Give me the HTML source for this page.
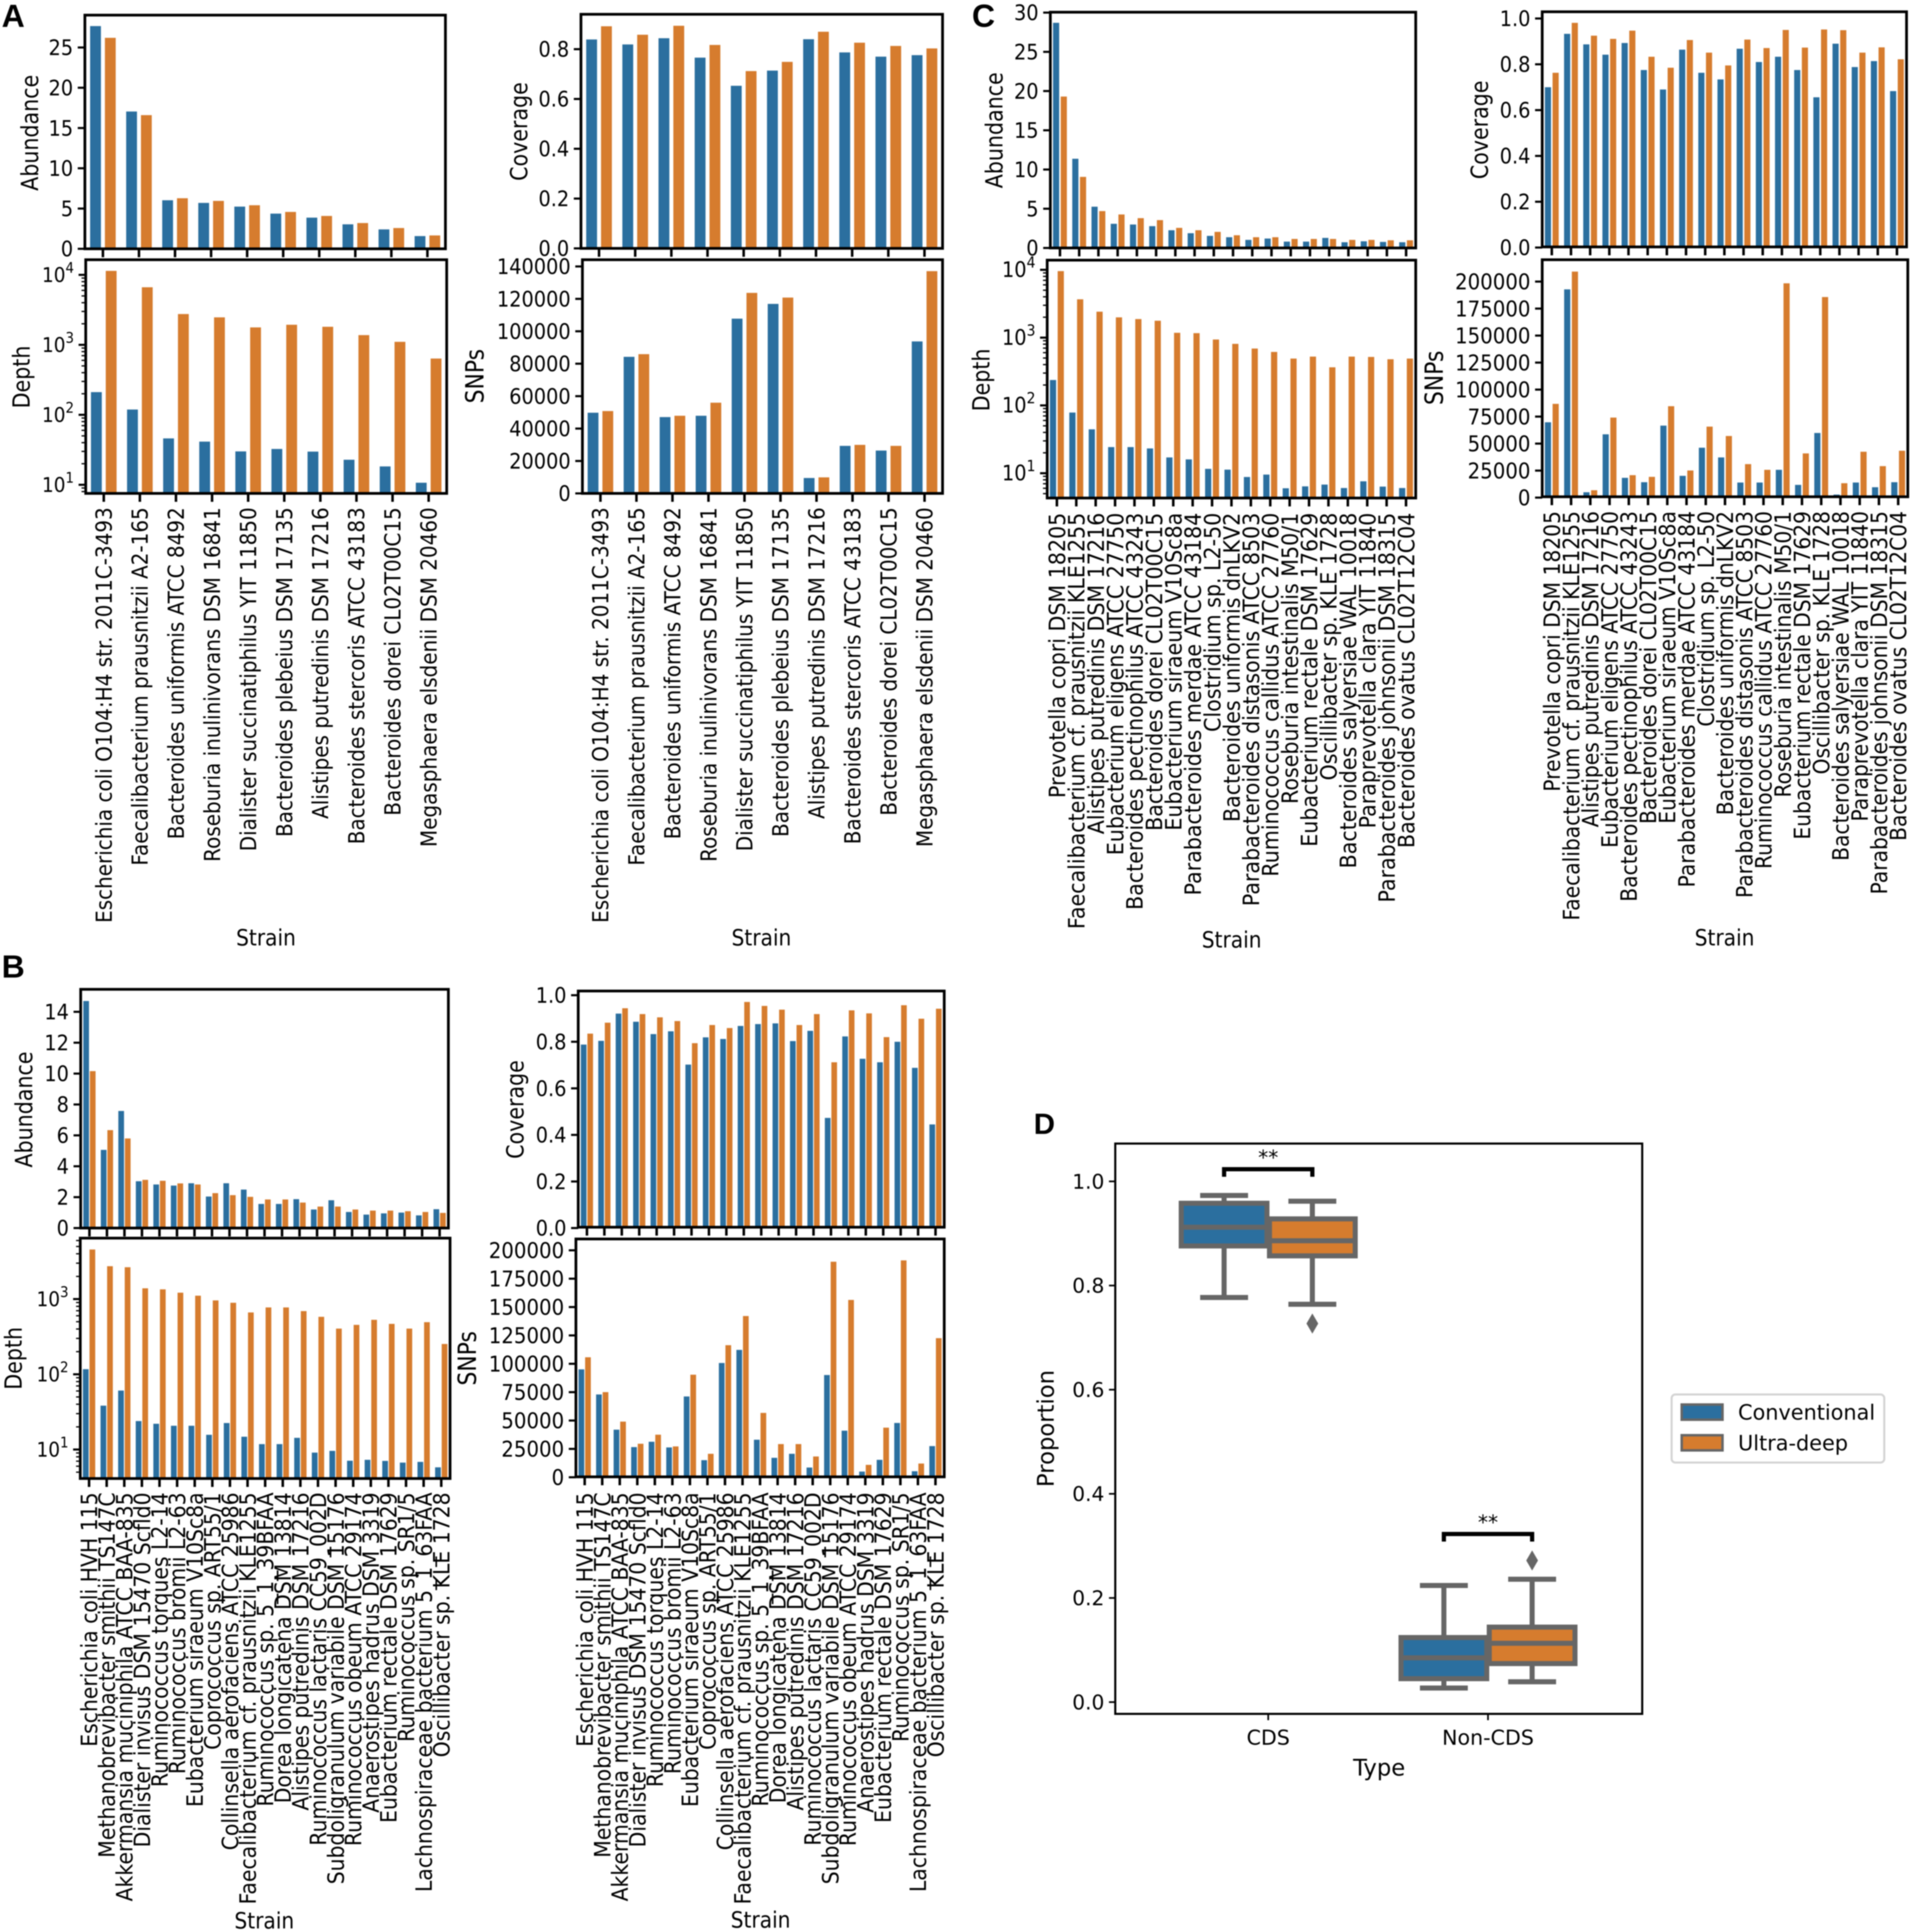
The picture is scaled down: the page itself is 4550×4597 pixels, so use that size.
<!DOCTYPE html>
<html lang="en">
<head>
<meta charset="utf-8">
<title>Strain abundance, depth, coverage and SNP comparison</title>
<style>
html,body{margin:0;padding:0;background:#fff;}
#figure{display:block;width:4550px;height:4597px;filter:blur(1.4px);}
text{font-family:"DejaVu Sans","Liberation Sans",sans-serif;fill:#000;}
</style>
</head>
<body>
<svg id="figure" xmlns="http://www.w3.org/2000/svg" width="4550" height="4597" viewBox="0 0 4550 4597">
<rect width="4550" height="4597" fill="#fff"></rect>
</svg>
<script>
// ---------- Panel A data ----------
const strainsA = ["Escherichia coli O104:H4 str. 2011C-3493","Faecalibacterium prausnitzii A2-165","Bacteroides uniformis ATCC 8492","Roseburia inulinivorans DSM 16841","Dialister succinatiphilus YIT 11850","Bacteroides plebeius DSM 17135","Alistipes putredinis DSM 17216","Bacteroides stercoris ATCC 43183","Bacteroides dorei CL02T00C15","Megasphaera elsdenii DSM 20460"];
const abundanceConvA = [27.66,17.05,6.03,5.7,5.24,4.37,3.87,3.04,2.41,1.58];
const abundanceUltraA = [26.2,16.6,6.28,5.95,5.41,4.58,4.08,3.2,2.58,1.66];
const depthConvA = [211,119,46,41.4,30,32.5,29.8,22.8,18.3,10.7];
const depthUltraA = [11400,6650,2755,2470,1775,1937,1812,1377,1104,637];
const coverageConvA = [.839,.819,.844,.766,.653,.714,.84,.787,.77,.776];
const coverageUltraA = [.892,.858,.894,.817,.712,.749,.87,.826,.813,.803];
const snpsConvA = [49770,84250,47080,47900,107800,116900,9500,29320,26430,93750];
const snpsUltraA = [50800,85900,47900,55960,123700,120800,9900,29940,29320,137100];

// ---------- Panel B data ----------
const strainsB = ["Escherichia coli HVH 115","Methanobrevibacter smithii TS147C","Akkermansia muciniphila ATCC BAA-835","Dialister invisus DSM 15470 Scfld0","Ruminococcus torques L2-14","Ruminococcus bromii L2-63","Eubacterium siraeum V10Sc8a","Coprococcus sp. ART55/1","Collinsella aerofaciens ATCC 25986","Faecalibacterium cf. prausnitzii KLE1255","Ruminococcus sp. 5_1_39BFAA","Dorea longicatena DSM 13814","Alistipes putredinis DSM 17216","Ruminococcus lactaris CC59_002D","Subdoligranulum variabile DSM 15176","Ruminococcus obeum ATCC 29174","Anaerostipes hadrus DSM 3319","Eubacterium rectale DSM 17629","Ruminococcus sp. SR1/5","Lachnospiraceae bacterium 5_1_63FAA","Oscillibacter sp. KLE 1728"];
const abundanceConvB = [14.7,5.06,7.58,3.03,2.82,2.75,2.9,2.04,2.9,2.49,1.56,1.56,1.87,1.2,1.8,1.04,.87,.95,1,.82,1.22];
const abundanceUltraB = [10.16,6.34,5.8,3.12,3.06,2.89,2.82,2.26,2.13,2.02,1.85,1.85,1.65,1.39,1.39,1.2,1.13,1.13,1.09,1.04,.98];
const depthConvB = [117,38.3,60.8,23.9,22,20.7,20.7,15.7,22.5,14.8,11.8,11.8,14.3,9.1,9.6,7.1,7.3,7.06,6.7,6.85,5.8];
const depthUltraB = [4560,2735,2650,1390,1347,1216,1109,960,893,664,774,774,692,581,405,454,530,468,405,493,253];
const coverageConvB = [.788,.804,.921,.886,.833,.845,.702,.819,.812,.868,.876,.879,.803,.847,.473,.823,.727,.712,.8,.688,.445];
const coverageUltraB = [.835,.882,.944,.919,.905,.889,.794,.872,.859,.971,.954,.938,.872,.919,.712,.935,.922,.82,.957,.899,.942];
const snpsConvB = [95100,72970,41950,26590,31300,26290,71200,15070,100700,112250,33090,17130,20680,8570,90100,41060,5020,15360,47850,5320,27470];
const snpsUltraB = [105750,75030,49040,29540,37520,27180,90390,20680,116390,142090,56720,29250,29250,18310,189940,156270,10930,43720,191130,12110,122590];

// ---------- Panel C data ----------
const strainsC = ["Prevotella copri DSM 18205","Faecalibacterium cf. prausnitzii KLE1255","Alistipes putredinis DSM 17216","Eubacterium eligens ATCC 27750","Bacteroides pectinophilus ATCC 43243","Bacteroides dorei CL02T00C15","Eubacterium siraeum V10Sc8a","Parabacteroides merdae ATCC 43184","Clostridium sp. L2-50","Bacteroides uniformis dnLKV2","Parabacteroides distasonis ATCC 8503","Ruminococcus callidus ATCC 27760","Roseburia intestinalis M50/1","Eubacterium rectale DSM 17629","Oscillibacter sp. KLE 1728","Bacteroides salyersiae WAL 10018","Paraprevotella clara YIT 11840","Parabacteroides johnsonii DSM 18315","Bacteroides ovatus CL02T12C04"];
const abundanceConvC = [28.7,11.37,5.26,3.08,2.99,2.78,2.26,1.88,1.54,1.37,1.03,1.2,.81,.81,1.28,.73,.85,.77,.73];
const abundanceUltraC = [19.3,9.06,4.7,4.27,3.8,3.55,2.56,2.26,2.05,1.62,1.37,1.37,1.15,1.15,1.15,1.03,1.03,.98,.98];
const depthConvC = [237,78.5,44.4,24.3,24.3,23.2,17.1,16,11.6,11.3,8.8,9.55,6,6.4,6.8,6.05,7.6,6.35,6.05];
const depthUltraC = [9570,3674,2413,1990,1878,1775,1178,1164,938,809,690,615,491,525,365,525,519,480,491];
const coverageConvC = [.7,.933,.887,.842,.893,.775,.69,.864,.763,.734,.868,.81,.833,.775,.656,.89,.788,.814,.683];
const coverageUltraC = [.763,.981,.925,.911,.947,.833,.785,.906,.851,.795,.908,.871,.95,.873,.952,.949,.851,.874,.822];
const snpsConvC = [69750,192800,4960,58600,18300,14260,66650,20150,46190,37200,13950,13950,25730,11780,59830,2790,13950,9610,14260];
const snpsUltraC = [86800,209250,6820,74090,20770,19220,84630,25110,65720,57040,31000,25730,198400,40920,185690,13330,42470,29140,43400];

// ---------- Tick labels ----------
const abundanceTicksA = ["0","5","10","15","20","25"];
const abundanceTicksB = ["0","2","4","6","8","10","12","14"];
const abundanceTicksC = ["0","5","10","15","20","25","30"];
const coverageTicksA = ["0.0","0.2","0.4","0.6","0.8"];
const coverageTicksFull = ["0.0","0.2","0.4","0.6","0.8","1.0"];
const snpTicksA = ["0","20000","40000","60000","80000","100000","120000","140000"];
const snpTicksFull = ["0","25000","50000","75000","100000","125000","150000","175000","200000"];
const depthExponentsAC = [1,2,3,4];
const depthExponentsB = [1,2,3];

// ---------- Panel D data (box statistics: whisker low, q1, median, q3, whisker high) ----------
const boxCategories = ["CDS","Non-CDS"];
const boxHues = ["Conventional","Ultra-deep"];
const cdsConvStats = [.777,.876,.912,.958,.973];
const cdsUltraStats = [.764,.857,.886,.928,.962];
const nonCdsConvStats = [.027,.045,.085,.124,.224];
const nonCdsUltraStats = [.039,.074,.113,.144,.236];
const cdsUltraFliers = [.727];
const nonCdsUltraFliers = [.272];
const boxTicks = ["0.0","0.2","0.4","0.6","0.8","1.0"];

const BLUE = "#2b6f9f";
const ORANGE = "#d67c2e";
const GREY = "#666666";
const svg = document.getElementById("figure");
const NS = "http://www.w3.org/2000/svg";

function make(tag, attrs, parent) {
  const el = document.createElementNS(NS, tag);
  for (const k in attrs) el.setAttribute(k, attrs[k]);
  parent.appendChild(el);
  return el;
}

function drawBarPanel(p) {
  const g = make("g", {}, svg);
  
  
  const n = p.categories.length;
  const step = (p.r - p.l) / n;
  const xCenter = i => p.l + (i + .5) * step;
  const tr = v => p.log ? Math.log10(v) : v;
  const yOf = v => p.y0 + (tr(v) - tr(p.v0)) * (p.y1 - p.y0) / (tr(p.v1) - tr(p.v0));
  const base = p.log ? p.b : yOf(0);
  const w = p.barFrac * step, gap = p.gapFrac * step;

  // bars
  [[p.conv, BLUE, 'conventional'], [p.ultra, ORANGE, 'ultra-deep']].forEach((s, si) => {
    s[0].forEach((v, i) => {
      const cx = xCenter(i) + (si === 0 ? -1 : 1) * (w + gap) / 2;
      const top = Math.max(yOf(v), p.t);
      const bar = make("rect", {x: cx - w / 2, y: top, width: w, height: Math.max(0, base - top), fill: s[1]}, g);
      
      
    });
  });

  // x ticks and labels
  p.categories.forEach((c, i) => {
    const x = xCenter(i);
    const tick = make("line", {x1: x, x2: x, y1: p.b, y2: p.b + 20, stroke: "#000", "stroke-width": 6}, g);
    
    
    if (p.labelStart) {
      const t = make("text", {transform: "translate(" + x + "," + p.labelStart + ") rotate(-90) scale(1,1.1)", "text-anchor": "end", dy: ".36em", "font-size": p.labelFont || 47.5}, g);
      t.textContent = c;
      
      
    }
  });

  // y ticks
  const fs = p.tickFont || 46;
  if (p.log) {
    p.ticks.forEach(ex => {
      const y = yOf(Math.pow(10, ex));
      const tick = make("line", {x1: p.l - 17, x2: p.l, y1: y, y2: y, stroke: "#000", "stroke-width": 5}, g);
      
      
      const t = make("text", {transform: "translate(" + (p.l - 28) + "," + (y + 17) + ") scale(1,1.1)", "text-anchor": "end", "font-size": fs}, g);
      t.appendChild(document.createTextNode("10"));
      const sup = make("tspan", {dy: -20, "font-size": fs * .72}, t);
      sup.textContent = String(ex);
      
      
    });
    const lo = p.ticks[0] - 1, hi = p.ticks[p.ticks.length - 1] + 1;
    for (let ex = lo; ex < hi; ex++) {
      for (let m = 2; m < 10; m++) {
        const y = yOf(m * Math.pow(10, ex));
        if (y < p.t || y > p.b) continue;
        const minor = make("line", {x1: p.l - 10, x2: p.l, y1: y, y2: y, stroke: "#000", "stroke-width": 3}, g);
        
        
      }
    }
  } else {
    p.ticks.forEach(lbl => {
      const y = yOf(Number(lbl));
      const tick = make("line", {x1: p.l - 17, x2: p.l, y1: y, y2: y, stroke: "#000", "stroke-width": 5}, g);
      
      
      const t = make("text", {transform: "translate(" + (p.l - 28) + "," + y + ") scale(1,1.1)", dy: ".36em", "text-anchor": "end", "font-size": fs}, g);
      t.textContent = lbl;
      
      
    });
  }

  // frame
  const frame = make("rect", {x: p.l, y: p.t, width: p.r - p.l, height: p.b - p.t, fill: "none", stroke: "#000", "stroke-width": 6.5}, g);
  
  

  // y title
  const yt = make("text", {transform: "translate(" + p.titleX + "," + p.titleY + ") rotate(-90) scale(1,1.15)", "text-anchor": "middle", dy: ".36em", "font-size": p.titleFont || 49}, g);
  yt.textContent = p.ylabel;
  
  

  // x title
  if (p.xTitleX) {
    const xt = make("text", {transform: "translate(" + p.xTitleX + "," + p.xTitleY + ") scale(1,1.12)", dy: ".36em", "text-anchor": "middle", "font-size": 48}, g);
    xt.textContent = "Strain";
    
    
  }
}

const fracA = {barFrac: .30, gapFrac: .11};
const fracB = {barFrac: .325, gapFrac: .05};
const fracC = {barFrac: .32, gapFrac: .08};

// Panel A
drawBarPanel(Object.assign({name: 'a-abundance', categories: strainsA, conv: abundanceConvA, ultra: abundanceUltraA, l: 202, r: 1060, t: 36, b: 592, v0: 0, y0: 592, v1: 25, y1: 113, ticks: abundanceTicksA, ylabel: 'Abundance', titleX: 70, titleY: 316}, fracA));
drawBarPanel(Object.assign({name: 'a-depth', log: true, categories: strainsA, conv: depthConvA, ultra: depthUltraA, l: 204, r: 1063, t: 618, b: 1174, v0: 10, y0: 1153.5, v1: 10000, y1: 654, ticks: depthExponentsAC, ylabel: 'Depth', titleX: 50, titleY: 897, labelStart: 1207, xTitleX: 633, xTitleY: 2230, tickFont: 44}, fracA));
drawBarPanel(Object.assign({name: 'a-coverage', categories: strainsA, conv: coverageConvA, ultra: coverageUltraA, l: 1382.5, r: 2243, t: 34, b: 591, v0: 0, y0: 591, v1: .8, y1: 117, ticks: coverageTicksA, ylabel: 'Coverage', titleX: 1234, titleY: 313}, fracA));
drawBarPanel(Object.assign({name: 'a-snps', categories: strainsA, conv: snpsConvA, ultra: snpsUltraA, l: 1386, r: 2243, t: 618, b: 1174, v0: 0, y0: 1174, v1: 140000, y1: 634, ticks: snpTicksA, ylabel: 'SNPs', titleX: 1129, titleY: 895, labelStart: 1207, xTitleX: 1812, xTitleY: 2230, titleFont: 52}, fracA));

// Panel B
drawBarPanel(Object.assign({name: 'b-abundance', categories: strainsB, conv: abundanceConvB, ultra: abundanceUltraB, l: 192, r: 1067, t: 2354, b: 2922, v0: 0, y0: 2922, v1: 14, y1: 2407.5, ticks: abundanceTicksB, ylabel: 'Abundance', titleX: 56, titleY: 2640}, fracB));
drawBarPanel(Object.assign({name: 'b-depth', log: true, categories: strainsB, conv: depthConvB, ultra: depthUltraB, l: 191, r: 1071, t: 2946, b: 3518, v0: 10, y0: 3449, v1: 1000, y1: 3091, ticks: depthExponentsB, ylabel: 'Depth', titleX: 31, titleY: 3232, labelStart: 3551, xTitleX: 629, xTitleY: 4569, tickFont: 44, labelFont: 48.5}, fracB));
drawBarPanel(Object.assign({name: 'b-coverage', categories: strainsB, conv: coverageConvB, ultra: coverageUltraB, l: 1376, r: 2247, t: 2358, b: 2920, v0: 0, y0: 2922, v1: 1, y1: 2368, ticks: coverageTicksFull, ylabel: 'Coverage', titleX: 1225, titleY: 2640}, fracB));
drawBarPanel(Object.assign({name: 'b-snps', categories: strainsB, conv: snpsConvB, ultra: snpsUltraB, l: 1370.5, r: 2247, t: 2948, b: 3514, v0: 0, y0: 3515, v1: 200000, y1: 2975, ticks: snpTicksFull, ylabel: 'SNPs', titleX: 1111, titleY: 3232, labelStart: 3551, xTitleX: 1810, xTitleY: 4567, tickFont: 47, titleFont: 52, labelFont: 48.5}, fracB));

// Panel C
drawBarPanel(Object.assign({name: 'c-abundance', categories: strainsC, conv: abundanceConvC, ultra: abundanceUltraC, l: 2499.5, r: 3369, t: 29, b: 590, v0: 0, y0: 590, v1: 30, y1: 30, ticks: abundanceTicksC, ylabel: 'Abundance', titleX: 2365, titleY: 310}, fracC));
drawBarPanel(Object.assign({name: 'c-depth', log: true, categories: strainsC, conv: depthConvC, ultra: depthUltraC, l: 2492, r: 3369, t: 619, b: 1185, v0: 10, y0: 1126, v1: 10000, y1: 642, ticks: depthExponentsAC, ylabel: 'Depth', titleX: 2334, titleY: 904, labelStart: 1220, xTitleX: 2931, xTitleY: 2235, tickFont: 46, labelFont: 49}, fracC));
drawBarPanel(Object.assign({name: 'c-coverage', categories: strainsC, conv: coverageConvC, ultra: coverageUltraC, l: 3670, r: 4537, t: 28, b: 587.5, v0: 0, y0: 589, v1: 1, y1: 44, ticks: coverageTicksFull, ylabel: 'Coverage', titleX: 3520, titleY: 309}, fracC));
drawBarPanel(Object.assign({name: 'c-snps', categories: strainsC, conv: snpsConvC, ultra: snpsUltraC, l: 3670, r: 4540, t: 618, b: 1182, v0: 0, y0: 1184, v1: 200000, y1: 670, ticks: snpTicksFull, ylabel: 'SNPs', titleX: 3412, titleY: 899, labelStart: 1216, xTitleX: 4104, xTitleY: 2230, tickFont: 47, titleFont: 52, labelFont: 48.2}, fracC));

// Panel D box plot
(function drawBoxPanel() {
  const g = make("g", {}, svg);
  
  
  const L = 2654, R = 3908, T = 2721, B = 4078;
  const yOf = v => 4050 + v * (2811 - 4050);
  const catX = i => 3018 + i * 523;
  const hueX = (i, h) => catX(i) + (h === 0 ? -1 : 1) * 105;
  const halfW = 102, capHalf = 57;

  function box(stats, cat, hue, fill) {
    const x = hueX(cat, hue);
    const [lo, q1, med, q3, hi] = stats;
    const whisker = make("path", {d: "M" + x + " " + yOf(q3) + "V" + yOf(hi) + "M" + (x - capHalf) + " " + yOf(hi) + "H" + (x + capHalf) + "M" + x + " " + yOf(q1) + "V" + yOf(lo) + "M" + (x - capHalf) + " " + yOf(lo) + "H" + (x + capHalf), stroke: GREY, "stroke-width": 12, fill: "none"}, g);
    
    
    const rect = make("rect", {x: x - halfW, y: yOf(q3), width: halfW * 2, height: yOf(q1) - yOf(q3), fill: fill, stroke: GREY, "stroke-width": 12}, g);
    
    
    const median = make("line", {x1: x - halfW, x2: x + halfW, y1: yOf(med), y2: yOf(med), stroke: GREY, "stroke-width": 12}, g);
    
    
  }
  function fliers(vals, cat, hue) {
    const x = hueX(cat, hue);
    vals.forEach(v => {
      const y = yOf(v);
      const d = make("polygon", {points: [[x, y - 24], [x + 14, y], [x, y + 24], [x - 14, y]].join(" "), fill: GREY}, g);
      
      
    });
  }
  box(cdsConvStats, 0, 0, BLUE);
  box(cdsUltraStats, 0, 1, ORANGE);
  box(nonCdsConvStats, 1, 0, BLUE);
  box(nonCdsUltraStats, 1, 1, ORANGE);
  fliers(cdsUltraFliers, 0, 1);
  fliers(nonCdsUltraFliers, 1, 1);

  // significance brackets
  [[0, 2782, 2800, 2771], [1, 3650, 3668, 3639]].forEach(b => {
    const x1 = hueX(b[0], 0), x2 = hueX(b[0], 1);
    const br = make("path", {d: "M" + x1 + " " + b[2] + "V" + b[1] + "H" + x2 + "V" + b[2], stroke: "#000", "stroke-width": 10, fill: "none"}, g);
    
    
    const st = make("text", {x: catX(b[0]), y: b[3], "text-anchor": "middle", "font-size": 48}, g);
    st.textContent = "**";
    
    
  });

  // axes
  const frame = make("rect", {x: L, y: T, width: R - L, height: B - T, fill: "none", stroke: "#000", "stroke-width": 5}, g);
  
  
  boxTicks.forEach(lbl => {
    const y = yOf(Number(lbl));
    const tick = make("line", {x1: L - 15, x2: L, y1: y, y2: y, stroke: "#000", "stroke-width": 4}, g);
    
    
    const t = make("text", {x: L - 26, y: y, dy: ".36em", "text-anchor": "end", "font-size": 48}, g);
    t.textContent = lbl;
    
    
  });
  boxCategories.forEach((c, i) => {
    const x = catX(i);
    const tick = make("line", {x1: x, x2: x, y1: B, y2: B + 15, stroke: "#000", "stroke-width": 4}, g);
    
    
    const t = make("text", {x: x, y: 4134, dy: ".36em", "text-anchor": "middle", "font-size": 49}, g);
    t.textContent = c;
    
    
  });
  const yt = make("text", {transform: "translate(2488,3399) rotate(-90)", "text-anchor": "middle", dy: ".36em", "font-size": 54}, g);
  yt.textContent = "Proportion";
  
  
  const xt = make("text", {x: 3282, y: 4205, dy: ".36em", "text-anchor": "middle", "font-size": 54}, g);
  xt.textContent = "Type";
  
  

  // legend
  const lg = make("g", {}, g);
  
  
  const lbox = make("rect", {x: 3978, y: 3318, width: 506, height: 162, rx: 9, fill: "#fff", stroke: "#d4d4d4", "stroke-width": 5}, lg);
  
  
  boxHues.forEach((h, i) => {
    const top = 3342 + i * 73;
    const sw = make("rect", {x: 4002, y: top, width: 97, height: 36, fill: i === 0 ? BLUE : ORANGE, stroke: GREY, "stroke-width": 6}, lg);
    
    
    const t = make("text", {x: 4136, y: top + 18, dy: ".36em", "font-size": 49.5}, lg);
    t.textContent = h;
    
    
  });
})();

// Panel letters
[["A", 4, 64, 76], ["B", 4, 2326, 76], ["C", 2313, 64, 76], ["D", 2460, 2698, 70]].forEach(l => {
  const t = make("text", {x: l[1], y: l[2], "font-size": l[3], "font-weight": "bold", style: 'font-family:"Liberation Sans",sans-serif'}, svg);
  t.textContent = l[0];
  
  
});
</script>
</body>
</html>
